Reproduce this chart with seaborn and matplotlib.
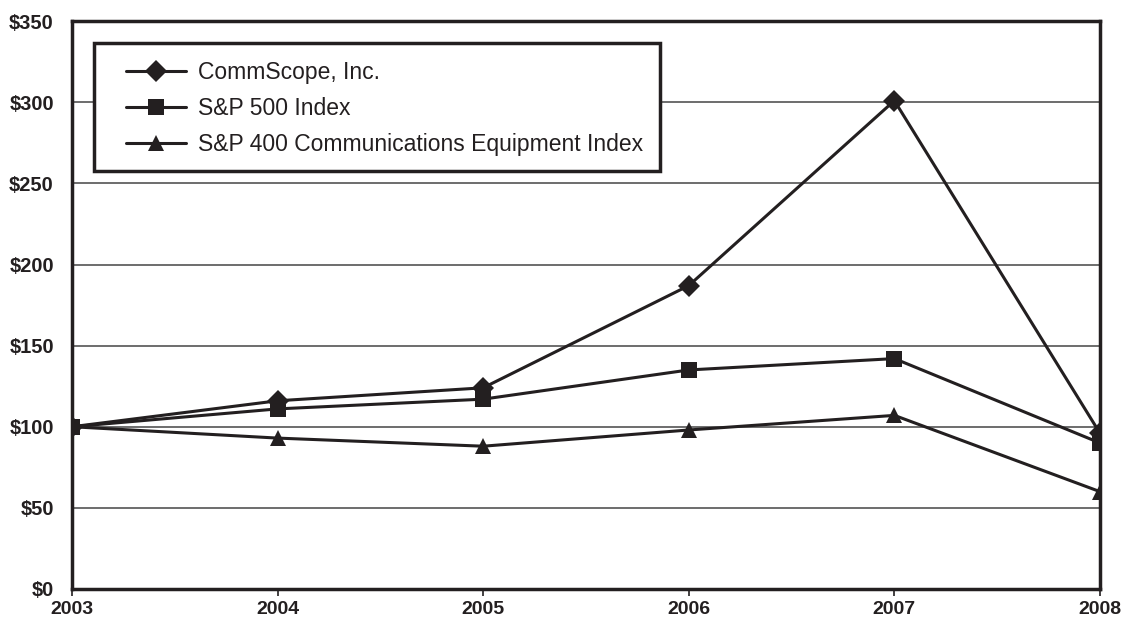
import pandas as pd
import numpy as np
import matplotlib
matplotlib.use('Agg')
import matplotlib.pyplot as plt
from matplotlib.patches import Rectangle
import seaborn as sns

years = [2003, 2004, 2005, 2006, 2007, 2008]
commscope = [100, 116, 124, 187, 301, 96]
sp500 = [100, 111, 117, 135, 142, 90]
sp400_comm = [100, 93, 88, 98, 107, 60]
series_names = ['CommScope, Inc.', 'S&P 500 Index', 'S&P 400 Communications Equipment Index']
y_ticks = [0, 50, 100, 150, 200, 250, 300, 350]

df = pd.DataFrame({
    'year': years * 3,
    'value': commscope + sp500 + sp400_comm,
    'series': [series_names[0]] * 6 + [series_names[1]] * 6 + [series_names[2]] * 6,
})

sns.set_style('white')
plt.rcParams['font.family'] = ['Liberation Sans', 'DejaVu Sans']

ink = '#231f20'
fig = plt.figure(figsize=(11.23, 6.22), dpi=100)
ax = fig.add_axes([0.0641, 0.0531, 0.9154, 0.9129])

sns.lineplot(data=df, x='year', y='value', hue='series', style='series',
             palette=[ink] * 3, markers={series_names[0]: 'D', series_names[1]: 's', series_names[2]: '^'},
             dashes=False, markersize=11, linewidth=2.2, markeredgewidth=0, ax=ax, zorder=3)

ax.set_xlim(2003, 2008)
ax.set_ylim(0, 350)
ax.set_yticks(y_ticks)
ax.set_yticklabels([f'${v}' for v in y_ticks], fontsize=14.5, fontweight='bold', color=ink)
ax.set_xticks(years)
ax.set_xticklabels([str(y) for y in years], fontsize=14, fontweight='bold', color=ink)
ax.tick_params(axis='y', length=0, pad=13)
ax.tick_params(axis='x', length=5, width=1.2, color=ink, direction='out', pad=4, bottom=True)
ax.yaxis.grid(True, color='#6d6d6d', linewidth=1.4)
ax.set_axisbelow(True)
for s in ax.spines.values():
    s.set_color(ink)
    s.set_linewidth(2.5)
ax.set_xlabel('')
ax.set_ylabel('')

# legend box drawn separately so the padding matches
box = Rectangle((0.0214, 0.7359), 0.5506, 0.2254, transform=ax.transAxes,
                facecolor='white', edgecolor=ink, linewidth=2.5, zorder=4)
ax.add_patch(box)

handles, labels = ax.get_legend_handles_labels()
leg = ax.legend(handles, labels, loc='upper left', bbox_to_anchor=(0.0525, 0.929), fontsize=16.5,
                frameon=False, handlelength=2.6, borderpad=0, labelspacing=0.56,
                handletextpad=0.55, borderaxespad=0)
leg.set_zorder(5)
for t in leg.get_texts():
    t.set_color(ink)

fig.savefig('out.png', dpi=100)
